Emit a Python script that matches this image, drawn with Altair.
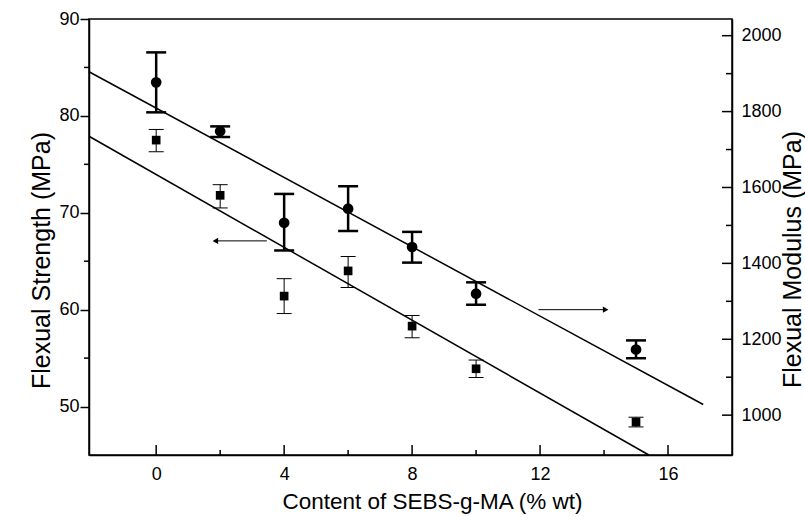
import altair as alt
import pandas as pd

# ---- data ----
content = [0, 2, 4, 6, 8, 10, 15]

strength = [77.5, 71.8, 61.4, 64.0, 58.3, 53.9, 48.4]
strength_lo = [76.3, 70.5, 59.6, 62.3, 57.1, 53.0, 47.9]
strength_hi = [78.6, 72.9, 63.2, 65.5, 59.4, 54.8, 48.9]

modulus = [1877, 1748, 1507, 1544, 1443, 1320, 1173]
modulus_lo = [1798, 1733, 1434, 1485, 1402, 1291, 1150]
modulus_hi = [1956, 1761, 1583, 1603, 1483, 1350, 1197]

fit_strength_x = [-2.1, 15.4]
fit_strength_y = [77.9, 45.0]
fit_modulus_x = [-2.1, 17.1]
fit_modulus_y = [1905, 1028]

arrow_left_x = [3.46, 1.85]
arrow_left_y = [67.1, 67.1]
arrow_right_x = [11.95, 14.05]
arrow_right_y = [60.0, 60.0]

x_ticks = [0, 4, 8, 12, 16]
x_minor = [2, 6, 10, 14]
left_ticks = [50, 60, 70, 80, 90]
left_minor = [55, 65, 75, 85]
right_ticks = [1000, 1200, 1400, 1600, 1800, 2000]
right_minor = [1100, 1300, 1500, 1700, 1900]

W, H = 643, 436
FONT = "Liberation Sans"

x_scale = alt.Scale(domain=[-2.1, 18.0], nice=False, zero=False)
ls = alt.Scale(domain=[45, 90], nice=False, zero=False)
rs = alt.Scale(domain=[895, 2044], nice=False, zero=False)

x_axis = alt.Axis(values=x_ticks, ticks=False, tickSize=0, labelPadding=10,
                  labelFontSize=18, labelFont=FONT, labelColor="black", format="d",
                  grid=False, domainColor="black", domainWidth=1.5,
                  title="Content of SEBS-g-MA (% wt)", titleFont=FONT,
                  titleFontSize=22.5, titleFontWeight="normal", titleColor="black",
                  titleX=343, titleY=53, titleBaseline="alphabetic", titleAlign="center")

left_axis = alt.Axis(orient="left", values=left_ticks, tickSize=9, tickWidth=1.5,
                     tickColor="black", labelPadding=1, labelFontSize=18, format="d",
                     labelFont=FONT, labelColor="black", grid=False,
                     domainColor="black", domainWidth=1.5,
                     title="Flexual Strength (MPa)", titleFont=FONT, titleFontSize=25,
                     titleFontWeight="normal", titleColor="black", titleAngle=270,
                     titleX=-40, titleY=241, titleAlign="center",
                     titleBaseline="alphabetic")

right_axis = alt.Axis(orient="right", values=right_ticks, ticks=False, tickSize=0,
                      labelPadding=9, labelFontSize=18, labelFont=FONT, format="d",
                      labelColor="black", grid=False, domainColor="black",
                      domainWidth=1.5,
                      title="Flexual Modulus (MPa)", titleFont=FONT, titleFontSize=25,
                      titleFontWeight="normal", titleColor="black", titleAngle=270,
                      titleX=68, titleY=240, titleAlign="center",
                      titleBaseline="alphabetic")


def X(f="x"):
    return alt.X(f, type="quantitative", scale=x_scale, axis=x_axis)


def YL(f):
    return alt.Y(f, type="quantitative", scale=ls, axis=left_axis)


def YR(f):
    return alt.Y(f, type="quantitative", scale=rs, axis=right_axis)


df_s = pd.DataFrame({"x": content, "y": strength, "lo": strength_lo, "hi": strength_hi})
df_m = pd.DataFrame({"x": content, "y": modulus, "lo": modulus_lo, "hi": modulus_hi})
df_fs = pd.DataFrame({"x": fit_strength_x, "y": fit_strength_y})
df_fm = pd.DataFrame({"x": fit_modulus_x, "y": fit_modulus_y})
df_arrows = pd.DataFrame({
    "x": arrow_left_x + arrow_right_x,
    "y": arrow_left_y + arrow_right_y,
    "a": ["L", "L", "R", "R"],
})
df_head_l = pd.DataFrame({"x": [arrow_left_x[1]], "y": [arrow_left_y[1]]})
df_head_r = pd.DataFrame({"x": [arrow_right_x[1]], "y": [arrow_right_y[1]]})
df_xt = pd.DataFrame({"x": x_ticks})
df_xm = pd.DataFrame({"x": x_minor})
df_lm = pd.DataFrame({"y": left_minor})
df_rt = pd.DataFrame({"y": right_ticks})
df_rm = pd.DataFrame({"y": right_minor})

# ---- left (strength) group ----
s_fit = alt.Chart(df_fs).mark_line(color="black", strokeWidth=1.5).encode(x=X(), y=YL("y"))
s_err = alt.Chart(df_s).mark_rule(color="black", strokeWidth=1).encode(
    x=X(), y=YL("lo"), y2="hi")
s_cap_lo = alt.Chart(df_s).mark_tick(orient="horizontal", size=15, thickness=1,
                                     color="black", opacity=1).encode(x=X(), y=YL("lo"))
s_cap_hi = alt.Chart(df_s).mark_tick(orient="horizontal", size=15, thickness=1,
                                     color="black", opacity=1).encode(x=X(), y=YL("hi"))
s_pts = alt.Chart(df_s).mark_square(size=75, color="black", opacity=1).encode(
    x=X(), y=YL("y"))
arr_lines = alt.Chart(df_arrows).mark_line(color="black", strokeWidth=1).encode(
    x=X(), y=YL("y"), detail="a:N")
head_l = alt.Chart(df_head_l).mark_point(shape="triangle-left", filled=True, size=40,
                                         color="black", opacity=1).encode(x=X(), y=YL("y"))
head_r = alt.Chart(df_head_r).mark_point(shape="triangle-right", filled=True, size=40,
                                         color="black", opacity=1).encode(x=X(), y=YL("y"))
xt = alt.Chart(df_xt).mark_rule(color="black", strokeWidth=1.5).encode(
    x=X(), y=alt.value(H), y2=alt.value(H - 10))
xm = alt.Chart(df_xm).mark_rule(color="black", strokeWidth=1.5).encode(
    x=X(), y=alt.value(H), y2=alt.value(H - 5))
lm = alt.Chart(df_lm).mark_rule(color="black", strokeWidth=1.5).encode(
    y=YL("y"), x=alt.value(0), x2=alt.value(-5))

left = alt.layer(s_fit, s_err, s_cap_lo, s_cap_hi, s_pts, arr_lines, head_l, head_r,
                 xt, xm, lm)

# ---- right (modulus) group ----
m_fit = alt.Chart(df_fm).mark_line(color="black", strokeWidth=1.5).encode(x=X(), y=YR("y"))
m_err = alt.Chart(df_m).mark_rule(color="black", strokeWidth=2.5).encode(
    x=X(), y=YR("lo"), y2="hi")
m_cap_lo = alt.Chart(df_m).mark_tick(orient="horizontal", size=20, thickness=2.5,
                                     color="black", opacity=1).encode(x=X(), y=YR("lo"))
m_cap_hi = alt.Chart(df_m).mark_tick(orient="horizontal", size=20, thickness=2.5,
                                     color="black", opacity=1).encode(x=X(), y=YR("hi"))
m_pts = alt.Chart(df_m).mark_circle(size=115, color="black", opacity=1).encode(
    x=X(), y=YR("y"))
rt = alt.Chart(df_rt).mark_rule(color="black", strokeWidth=1.5).encode(
    y=YR("y"), x=alt.value(W), x2=alt.value(W - 10))
rm = alt.Chart(df_rm).mark_rule(color="black", strokeWidth=1.5).encode(
    y=YR("y"), x=alt.value(W), x2=alt.value(W - 6))

right = alt.layer(m_fit, m_err, m_cap_lo, m_cap_hi, m_pts, rt, rm)

chart = (
    alt.layer(left, right)
    .resolve_scale(y="independent")
    .properties(
        width=W,
        height=H,
        autosize=alt.AutoSizeParams(type="none"),
        padding={"left": 89, "top": 19, "right": 805 - 89 - W, "bottom": 517 - 19 - H},
        background="white",
    )
    .configure_view(stroke="black", strokeWidth=1.5)
)

chart.save("out.html", embed_options={"renderer": "svg", "actions": False})
